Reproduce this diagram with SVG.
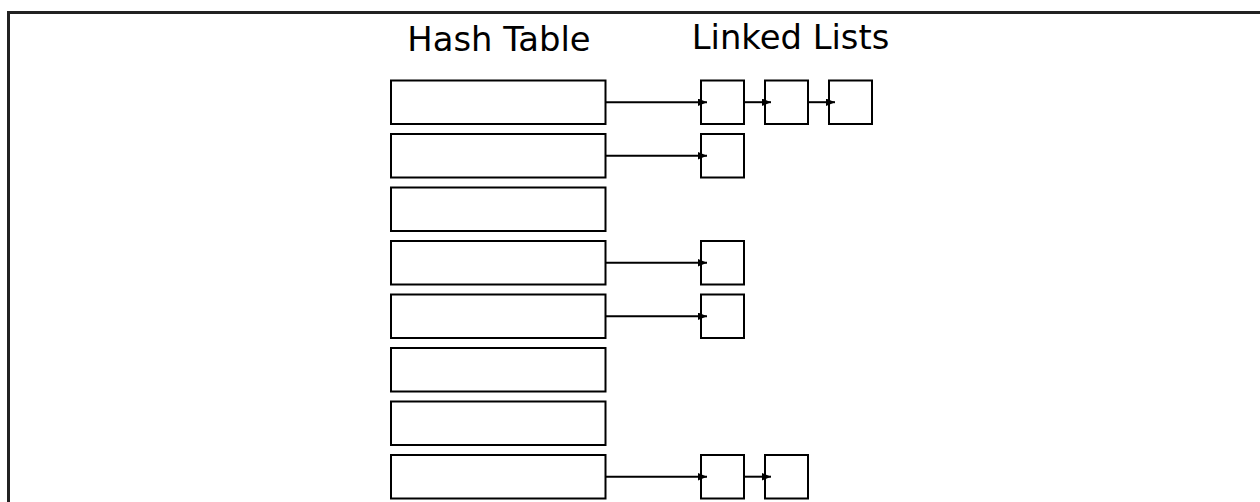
<svg xmlns="http://www.w3.org/2000/svg" width="1260" height="502" viewBox="0 0 1260 502">
<style>
.t{font-family:"DejaVu Sans",sans-serif;font-size:33.8px;fill:#000;text-anchor:middle}
.b{fill:#fff;stroke:#000;stroke-width:2}
.c{stroke:#000;stroke-width:2;fill:none;marker-end:url(#ah)}
</style>
<defs>
<marker id="ah" markerUnits="userSpaceOnUse" markerWidth="10" markerHeight="8" refX="9" refY="3.7" orient="auto">
<path d="M0,0 L9,3.7 L0,7.4 z" fill="#000"/>
</marker>
</defs>
<rect width="1260" height="502" fill="#fff"/>
<path d="M8.5,502 V12.5 H1260" fill="none" stroke="#222" stroke-width="3"/>
<text class="t" x="499" y="51">Hash Table</text>
<text class="t" x="790.5" y="48.5">Linked Lists</text>
<g id="table">
<rect id="slot0" class="b" x="391" y="80.5" width="214.5" height="43.5"/>
<rect id="slot1" class="b" x="391" y="134" width="214.5" height="43.5"/>
<rect id="slot2" class="b" x="391" y="187.5" width="214.5" height="43.5"/>
<rect id="slot3" class="b" x="391" y="241" width="214.5" height="43.5"/>
<rect id="slot4" class="b" x="391" y="294.5" width="214.5" height="43.5"/>
<rect id="slot5" class="b" x="391" y="348" width="214.5" height="43.5"/>
<rect id="slot6" class="b" x="391" y="401.5" width="214.5" height="43.5"/>
<rect id="slot7" class="b" x="391" y="455" width="214.5" height="43.5"/>
</g>
<g id="n0a"><rect class="b" x="701" y="80.5" width="43" height="43.5"/></g>
<g id="n0b"><rect class="b" x="765" y="80.5" width="43" height="43.5"/></g>
<g id="n0c"><rect class="b" x="829" y="80.5" width="43" height="43.5"/></g>
<g id="n1a"><rect class="b" x="701" y="134" width="43" height="43.5"/></g>
<g id="n3a"><rect class="b" x="701" y="241" width="43" height="43.5"/></g>
<g id="n4a"><rect class="b" x="701" y="294.5" width="43" height="43.5"/></g>
<g id="n7a"><rect class="b" x="701" y="455" width="43" height="43.5"/></g>
<g id="n7b"><rect class="b" x="765" y="455" width="43" height="43.5"/></g>
<g id="connectors">
<path class="c" d="M605.5,102.2 H707"/>
<path class="c" d="M744,102.2 H771"/>
<path class="c" d="M808,102.2 H835"/>
<path class="c" d="M605.5,155.7 H707"/>
<path class="c" d="M605.5,262.7 H707"/>
<path class="c" d="M605.5,316.2 H707"/>
<path class="c" d="M605.5,476.7 H707"/>
<path class="c" d="M744,476.7 H771"/>
</g>
</svg>
